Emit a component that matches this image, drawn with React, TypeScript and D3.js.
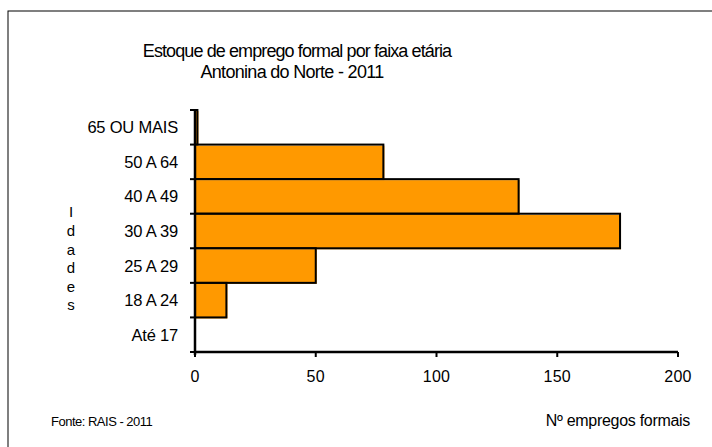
import React from 'react';
import * as d3 from 'd3';

// faixas etárias, de cima para baixo
const faixas = ['65 OU MAIS', '50 A 64', '40 A 49', '30 A 39', '25 A 29', '18 A 24', 'Até 17'];
const empregos = [1, 78, 134, 176, 50, 13, 0];
const xTicks = [0, 50, 100, 150, 200];
const eixoY = ['I', 'd', 'a', 'd', 'e', 's'];

const W = 712;
const H = 447;
const plot = { left: 195, right: 678, top: 110, bottom: 352 };
const FONT = '"Liberation Sans", Arial, sans-serif';

const App = () => {
  const x = d3.scaleLinear().domain([0, 200]).range([plot.left, plot.right]);
  const y = d3.scaleBand().domain(faixas).range([plot.top, plot.bottom]).padding(0);
  const bw = y.bandwidth();

  return (
    <svg width={W} height={H} style={{ position: 'absolute', left: 0, top: 0 }} fontFamily={FONT}>
      <rect x={0} y={0} width={W} height={H} fill="#fff" />
      {/* moldura */}
      <rect x={8} y={11} width={W + 10} height={H + 10} fill="none" stroke="#000" strokeWidth={1} />

      {/* título */}
      <text x={297} y={57} textAnchor="middle" fontSize={18} letterSpacing={-0.9} fill="#000">
        Estoque de emprego formal por faixa etária
      </text>
      <text x={292} y={78} textAnchor="middle" fontSize={18} letterSpacing={-0.7} fill="#000">
        Antonina do Norte  - 2011
      </text>

      {/* barras */}
      {faixas.map((f, i) => {
        const v = empregos[i];
        if (v <= 0) return null;
        const y0 = y(f) as number;
        const w = x(v) - x(0);
        return (
          <g key={f}>
            <rect x={x(0) + 1} y={y0 + 1} width={w} height={bw} fill="#FF9900" />
            <rect x={x(0)} y={y0} width={w} height={bw} fill="none" stroke="#000" strokeWidth={2} />
          </g>
        );
      })}

      {/* eixo y */}
      <line x1={plot.left} x2={plot.left} y1={plot.top} y2={plot.bottom + 3} stroke="#000" strokeWidth={2.5} />
      {d3.range(faixas.length + 1).map((i) => {
        const yy = plot.top + i * bw;
        return <line key={i} x1={plot.left - 5} x2={plot.left} y1={yy} y2={yy} stroke="#000" strokeWidth={2} />;
      })}
      {faixas.map((f) => (
        <text
          key={f}
          x={178}
          y={(y(f) as number) + bw / 2}
          dy="0.36em"
          textAnchor="end"
          fontSize={16.5}
          letterSpacing={-0.2}
          fill="#000"
        >
          {f}
        </text>
      ))}

      {/* eixo x */}
      <line x1={plot.left} x2={plot.right} y1={plot.bottom} y2={plot.bottom} stroke="#000" strokeWidth={2.5} />
      {xTicks.map((t) => (
        <g key={t}>
          <line x1={x(t)} x2={x(t)} y1={plot.bottom} y2={plot.bottom + 5} stroke="#000" strokeWidth={2} />
          <text x={x(t)} y={382} textAnchor="middle" fontSize={16} letterSpacing={0.3} fill="#000">
            {t}
          </text>
        </g>
      ))}

      {/* rótulo vertical */}
      {eixoY.map((c, i) => (
        <text key={i} x={71} y={212 + i * 18.6} dy="0.36em" textAnchor="middle" fontSize={15} fill="#000">
          {c}
        </text>
      ))}

      <text x={51} y={426} fontSize={13} letterSpacing={-0.5} fill="#000">
        Fonte: RAIS - 2011
      </text>
      <text x={690} y={426} textAnchor="end" fontSize={16} letterSpacing={-0.3} fill="#000">
        Nº empregos formais
      </text>
    </svg>
  );
};

export default App;
